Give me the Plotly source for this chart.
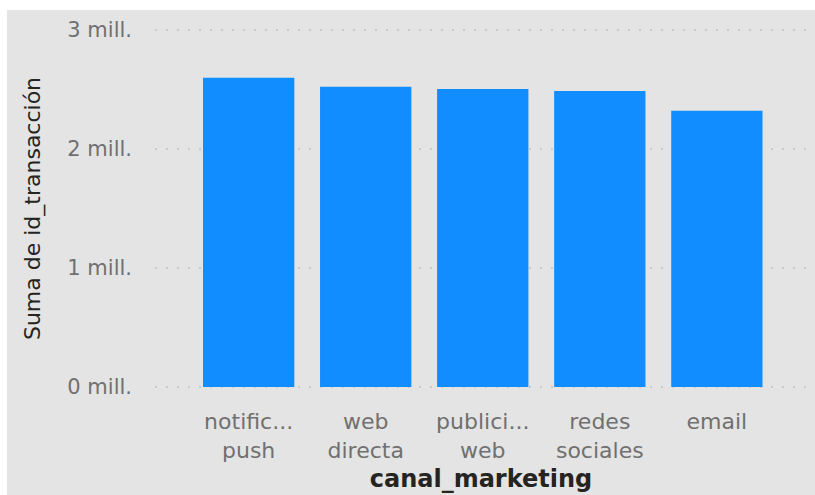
import plotly.graph_objects as go

categorias = ["notificación push", "web directa", "publicidad web", "redes sociales", "email"]
etiquetas = ["notific...<br>push", "web<br>directa", "publici...<br>web", "redes<br>sociales", "email"]
valores = [2599000, 2524000, 2504000, 2487000, 2322000]
tick_vals = [0, 1000000, 2000000, 3000000]
tick_text = ["0 mill.", "1 mill.", "2 mill.", "3 mill."]

FONT = "DejaVu Sans"

fig = go.Figure()
fig.add_trace(go.Bar(
    x=categorias, y=valores,
    marker=dict(color="#118DFF", line=dict(width=0)),
    width=0.78,
))

W, H = 815, 495
L, R, T, B = 155, 8, 28, 106
pw = W - L - R
ph = H - T - B
pad = 3000000 * 2 / 357  # 2 px of value beyond each end so edge grid lines are drawn

fig.add_shape(type="rect", xref="paper", yref="paper",
              x0=(7 - L) / pw, x1=(W - L) / pw + 0.01,
              y0=-(B + 5) / ph, y1=1 + (T - 10) / ph,
              fillcolor="#E4E4E4", line=dict(width=0), layer="below")

fig.update_layout(
    width=W, height=H,
    margin=dict(l=L, r=R, t=T, b=B, pad=0),
    paper_bgcolor="white",
    plot_bgcolor="rgba(0,0,0,0)",
    showlegend=False,
    font=dict(family=FONT),
    xaxis=dict(
        type="category",
        tickvals=categorias, ticktext=etiquetas,
        range=[-0.8, 4.77],
        showgrid=False, zeroline=False, showline=False, ticks="",
        ticklabelstandoff=17,
        tickfont=dict(family=FONT, size=22, color="#707070"),
        title=dict(text="<b>canal_marketing</b>", font=dict(family=FONT, size=24, color="#252423"), standoff=8),
    ),
    yaxis=dict(
        range=[-pad, 3000000 + pad],
        tickvals=tick_vals, ticktext=tick_text,
        showgrid=True, gridcolor="#CACACA", griddash="2px,9px", gridwidth=1.5,
        zeroline=False, showline=False, ticks="",
        ticklabelstandoff=22,
        tickfont=dict(family=FONT, size=21, color="#707070"),
        title=dict(text="Suma de id_transacción", font=dict(family=FONT, size=22, color="#252423"), standoff=20),
    ),
)

fig.write_html("out.html")
